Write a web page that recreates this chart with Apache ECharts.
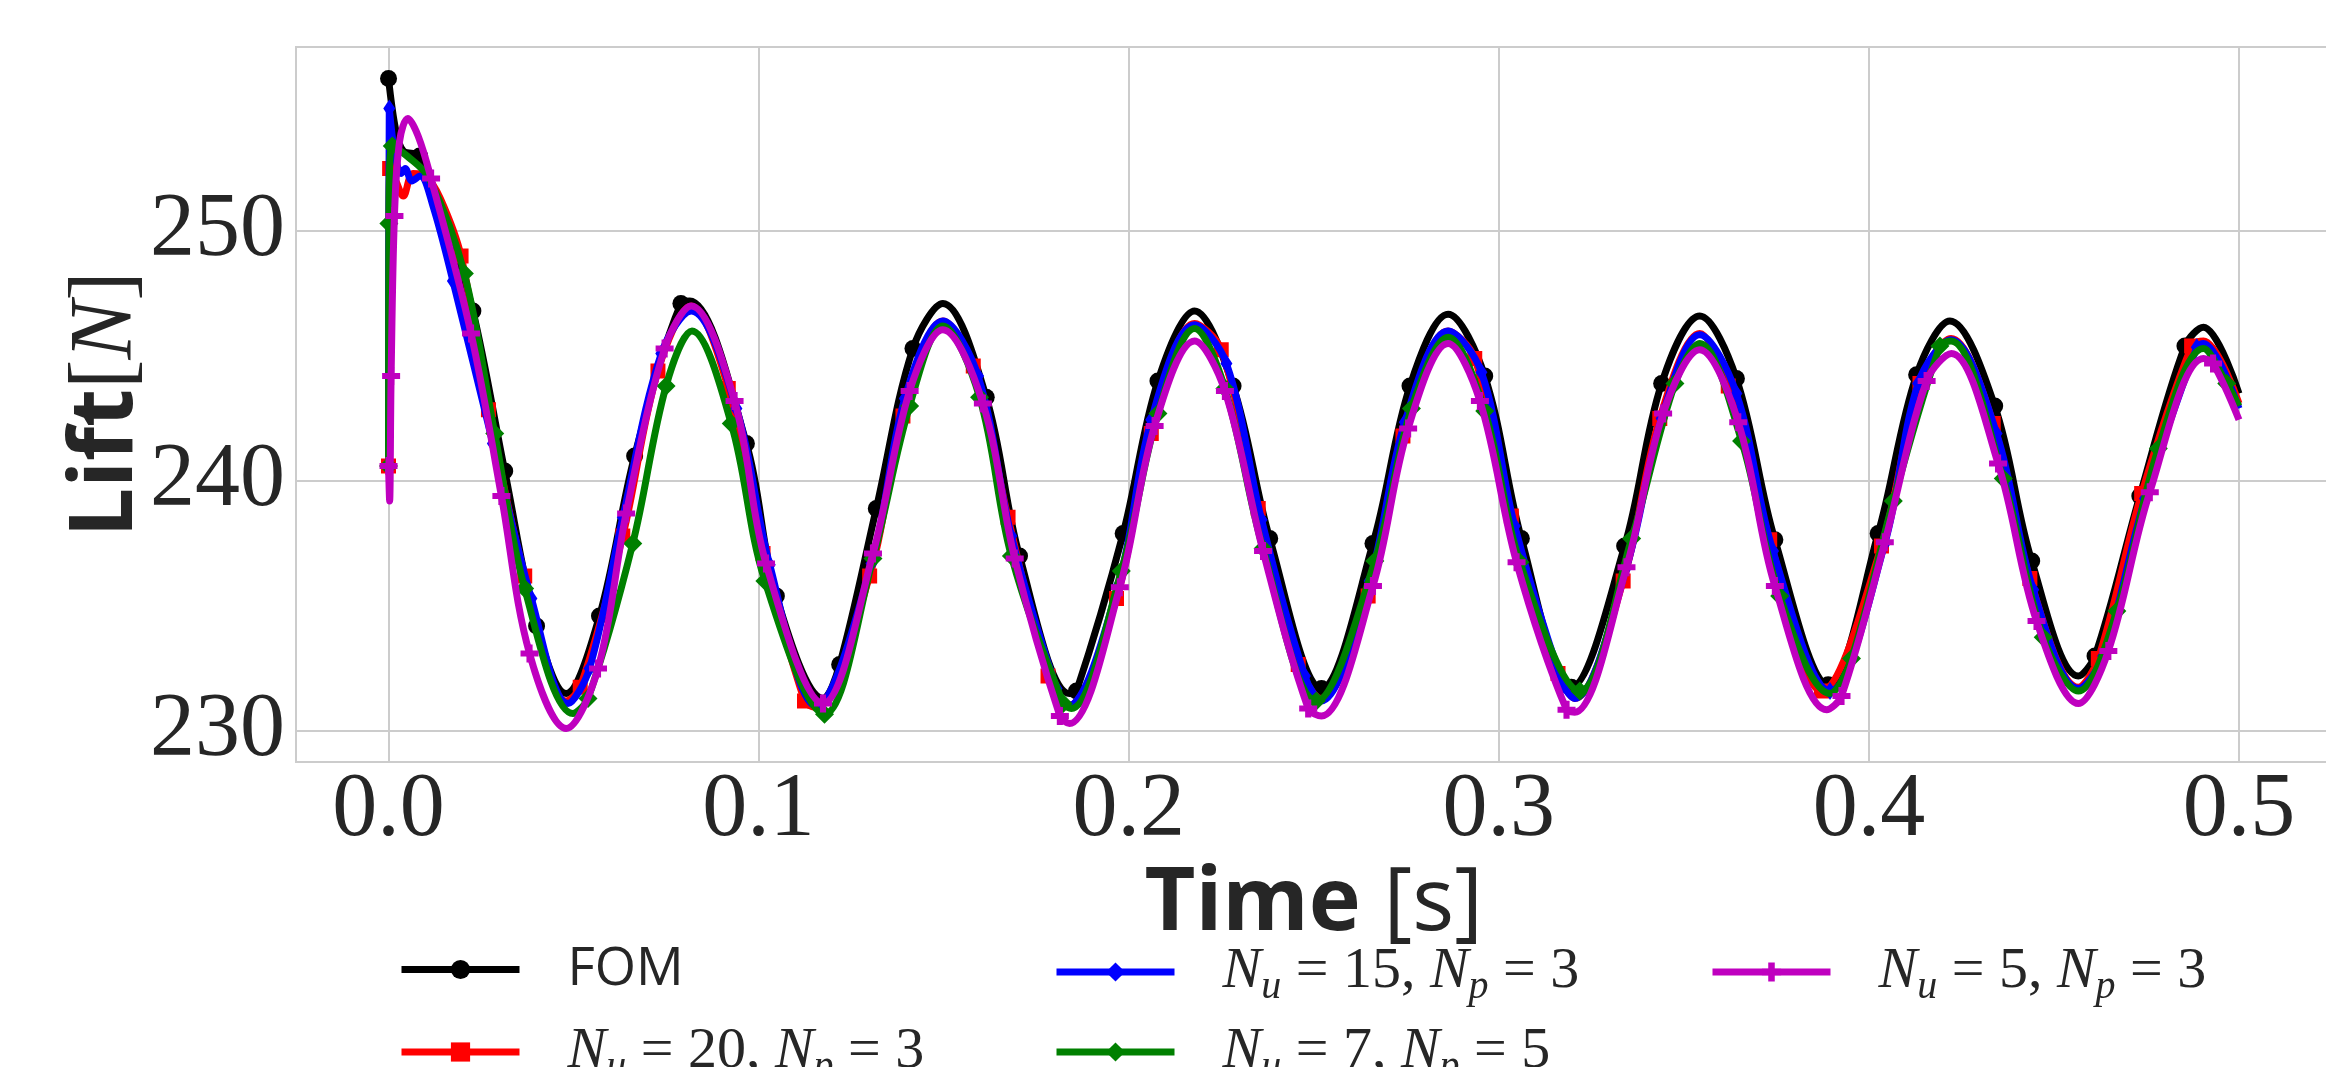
<!DOCTYPE html>
<html><head><meta charset="utf-8">
<script src="https://cdn.jsdelivr.net/npm/echarts@6/dist/echarts.min.js"></script>
<style>html,body{margin:0;padding:0;background:#fff}#c{width:2326px;height:1067px}</style>
</head><body><div id="c"></div>
<script>
// ---- Data ----
const xTickLabels = ['0.0','0.1','0.2','0.3','0.4','0.5'];
const yTickLabels = ['230','240','250'];

// FOM
const fomLine = [[0.002,254.0],[0.004,253.2],[0.012,251.6],[0.016,250.0],[0.048,231.5],[0.0814,247.2],[0.1175,231.3],[0.1498,247.1],[0.184,231.5],[0.2178,246.8],[0.2863,246.67],[0.3543,246.6],[0.4219,246.4],[0.4566,232.2],[0.4904,246.15],[0.5,243.5]];
const fomMarks = [[0,256.1],[0.0084,253.0],[0.0228,246.8],[0.0314,240.4],[0.040,234.2],[0.057,234.6],[0.0665,241.0],[0.079,247.1],[0.0967,241.5],[0.1048,235.4],[0.1219,232.66],[0.1318,238.9],[0.1417,245.3],[0.1615,243.35],[0.1705,237.0],[0.1859,231.6],[0.1985,237.9],[0.2079,244.0],[0.2282,243.8],[0.2381,237.7],[0.2521,231.7],[0.266,237.5],[0.276,243.8],[0.2962,244.2],[0.3061,237.7],[0.3196,231.75],[0.334,237.4],[0.344,243.9],[0.3642,244.1],[0.3746,237.65],[0.389,231.85],[0.4025,237.9],[0.4129,244.25],[0.434,243.0],[0.444,236.8],[0.4611,233.0],[0.4732,239.4],[0.4854,245.4]];

// N_u = 20, N_p = 3
const n20Line = [[0.002,252.0],[0.004,251.4],[0.0066,252.3],[0.010,252.2],[0.014,251.3],[0.048,231.2],[0.0818,247.0],[0.115,230.95],[0.1498,246.4],[0.1835,231.0],[0.2178,246.3],[0.252,231.3],[0.2863,246.0],[0.3205,231.3],[0.3543,245.9],[0.4222,245.7],[0.4566,231.75],[0.4904,245.6],[0.5,243.1]];
const n20Marks = [[0,240.6],[0.0003,252.5],[0.0196,249.0],[0.027,242.85],[0.0368,236.2],[0.0518,231.75],[0.0633,237.8],[0.0728,244.4],[0.0918,243.7],[0.1012,237.1],[0.1124,231.2],[0.130,236.2],[0.139,242.6],[0.158,244.6],[0.1674,238.55],[0.1782,232.2],[0.1967,235.3],[0.2061,241.9],[0.225,245.25],[0.235,238.9],[0.2458,232.66],[0.2647,235.4],[0.2741,241.8],[0.2935,244.9],[0.3034,238.6],[0.316,232.3],[0.3336,236.0],[0.3435,242.5],[0.362,243.8],[0.3732,237.65],[0.3872,231.6],[0.4034,237.4],[0.4138,243.9],[0.4336,242.3],[0.4435,236.1],[0.462,232.9],[0.4737,239.5],[0.4872,245.4]];

// N_u = 15, N_p = 3
const n15Line = [[0,240.6],[0.0015,253.3],[0.0034,252.3],[0.0045,252.5],[0.0063,252.0],[0.0085,252.2],[0.012,251.0],[0.0485,231.1],[0.0818,246.8],[0.1155,231.0],[0.1498,246.4],[0.1835,231.0],[0.2178,246.25],[0.252,231.2],[0.2863,246.0],[0.3205,231.3],[0.3543,245.85],[0.4222,245.65],[0.4566,231.7],[0.4904,245.5],[0.5,242.9]];
const n15Marks = [[0.0002,254.9],[0.0174,248.0],[0.0282,241.5],[0.0386,235.3],[0.0543,232.5],[0.0633,238.55],[0.0737,245.1],[0.094,242.9],[0.103,236.65],[0.1305,236.7],[0.1395,243.3],[0.1593,244.2],[0.1683,237.8],[0.1805,231.7],[0.1971,235.8],[0.2061,242.45],[0.2264,244.7],[0.2359,238.45],[0.2476,232.2],[0.2651,236.0],[0.2746,242.35],[0.2953,244.35],[0.3043,238.2],[0.3174,231.85],[0.3345,236.55],[0.344,242.5],[0.3642,243.5],[0.3741,237.2],[0.3895,231.6],[0.4043,237.5],[0.4133,243.9],[0.4345,241.9],[0.4444,235.65],[0.4633,233.0],[0.4746,239.3],[0.4886,245.35]];

// N_u = 7, N_p = 5
const n7Line = [[0.005,253.0],[0.011,252.1],[0.0498,230.7],[0.082,246.0],[0.1498,246.2],[0.1845,230.9],[0.2178,246.1],[0.2863,245.75],[0.3543,245.5],[0.3895,231.5],[0.4222,245.6],[0.4566,231.6],[0.4904,245.3],[0.5,243.0]];
const n7Marks = [[0,240.6],[0.0001,250.3],[0.001,253.4],[0.0205,248.3],[0.0287,241.9],[0.0368,235.7],[0.0539,231.3],[0.066,237.5],[0.075,243.8],[0.0926,242.3],[0.1017,236.0],[0.1178,230.67],[0.1309,236.9],[0.1408,243.0],[0.1597,243.35],[0.1683,237.0],[0.1823,231.1],[0.198,236.4],[0.2079,242.7],[0.226,243.7],[0.2363,237.3],[0.2507,231.2],[0.2665,236.8],[0.2764,242.9],[0.2962,242.8],[0.3057,236.75],[0.3219,231.6],[0.3359,237.7],[0.3476,243.9],[0.3656,241.6],[0.3759,235.4],[0.3953,232.9],[0.4066,239.2],[0.4192,245.4],[0.4363,240.1],[0.4471,233.75],[0.467,234.8],[0.4782,241.3],[0.4967,243.9]];

// N_u = 5, N_p = 3
const n5Line = [[0.0003,239.2],[0.003,253.6],[0.0052,254.5],[0.008,253.8],[0.048,230.1],[0.0818,247.0],[0.1498,246.05],[0.184,230.3],[0.2178,245.6],[0.2521,230.6],[0.2863,245.5],[0.3205,230.75],[0.3543,245.25],[0.3886,230.85],[0.4223,245.1],[0.4566,231.1],[0.4904,244.9],[0.5,242.45]];
const n5Marks = [[0,240.6],[0.0007,244.2],[0.0016,250.6],[0.0115,252.1],[0.0223,245.9],[0.0305,239.4],[0.0381,233.1],[0.0566,232.5],[0.0642,238.7],[0.0746,245.3],[0.0935,243.2],[0.102,236.7],[0.1174,231.1],[0.1309,237.1],[0.1408,243.6],[0.1606,243.1],[0.1692,236.9],[0.1814,230.6],[0.1976,235.75],[0.207,242.2],[0.226,243.6],[0.2363,237.2],[0.2485,230.9],[0.266,235.8],[0.2755,242.1],[0.2949,243.2],[0.3048,236.75],[0.3183,230.85],[0.3345,236.55],[0.3444,242.7],[0.3647,242.35],[0.3746,235.8],[0.3926,231.4],[0.4043,237.55],[0.4156,244.0],[0.4349,240.7],[0.4453,234.4],[0.4647,233.2],[0.4759,239.55],[0.493,244.7]];

// ---- Chart ----
const TXT = '#262626';
const SERIF = 'Liberation Serif';
const SANS = 'Open Sans';

function build(line, marks) {
  const all = line.map(p => ({ value: p, symbol: 'none' }))
    .concat(marks.map(p => ({ value: p })));
  all.sort((a, b) => a.value[0] - b.value[0]);
  return all;
}

const PLUS = 'path://M-1,-0.34L-0.34,-0.34L-0.34,-1L0.34,-1L0.34,-0.34L1,-0.34L1,0.34L0.34,0.34L0.34,1L-0.34,1L-0.34,0.34L-1,0.34Z';
const THIN = 'path://M0,-1L0.6,0L0,1L-0.6,0Z';

const defs = [
  { key: 'fom', line: fomLine, marks: fomMarks, color: '#000000', symbol: 'circle', size: 17 },
  { key: 'n20', line: n20Line, marks: n20Marks, color: '#ff0000', symbol: 'rect', size: 15 },
  { key: 'n15', line: n15Line, marks: n15Marks, color: '#0000ff', symbol: THIN, size: [12, 18] },
  { key: 'n7', line: n7Line, marks: n7Marks, color: '#008000', symbol: 'diamond', size: 19 },
  { key: 'n5', line: n5Line, marks: n5Marks, color: '#bf00bf', symbol: PLUS, size: 18 }
];

const legendText = {
  fom: '{f|FOM}',
  n20: '{n|N}{s|u}{t| = 20, }{n|N}{s|p}{t| = 3}',
  n15: '{n|N}{s|u}{t| = 15, }{n|N}{s|p}{t| = 3}',
  n7: '{n|N}{s|u}{t| = 7, }{n|N}{s|p}{t| = 5}',
  n5: '{n|N}{s|u}{t| = 5, }{n|N}{s|p}{t| = 3}'
};

const legendRich = {
  f: { fontFamily: SANS, fontSize: 53, color: TXT, lineHeight: 70 },
  n: { fontFamily: SERIF, fontStyle: 'italic', fontSize: 58, color: TXT, lineHeight: 70 },
  t: { fontFamily: SERIF, fontSize: 58, color: TXT, lineHeight: 70 },
  s: { fontFamily: SERIF, fontStyle: 'italic', fontSize: 40, color: TXT, lineHeight: 42, verticalAlign: 'bottom' }
};

function legendItem(name, left, top) {
  return {
    data: [name], orient: 'horizontal', left: left, top: top, padding: 0,
    itemWidth: 118, itemHeight: 24, selectedMode: false,
    lineStyle: { width: 7 },
    formatter: n => legendText[n],
    textStyle: { color: TXT, padding: [0, 0, 0, 43], rich: legendRich }
  };
}

const chart = echarts.init(document.getElementById('c'), null, { renderer: 'canvas' });
chart.setOption({
  animation: false,
  backgroundColor: '#ffffff',
  grid: { left: 296, top: 47, width: 2035.5, height: 715, show: true, borderColor: '#cccccc', borderWidth: 2, backgroundColor: 'transparent', outerBoundsMode: 'none', containLabel: false },
  xAxis: {
    type: 'value', min: -0.025, max: 0.525, splitNumber: 5,
    axisLine: { show: false }, axisTick: { show: false },
    splitLine: { show: true, lineStyle: { color: '#cccccc', width: 2 } },
    axisLabel: {
      showMinLabel: false, showMaxLabel: false, margin: 4,
      formatter: v => { const s = v.toFixed(1); return xTickLabels.indexOf(s) >= 0 ? '{v|' + s + '}' : ''; },
      rich: { v: { fontFamily: SERIF, fontSize: 90, color: TXT } }
    },
    name: '{b|Time }{r|[s]}', nameLocation: 'middle', nameGap: 92,
    nameTextStyle: { rich: {
      b: { fontFamily: SANS, fontWeight: 'bold', fontSize: 88, color: TXT },
      r: { fontFamily: SANS, fontSize: 88, color: TXT }
    } }
  },
  yAxis: {
    type: 'value', min: 228.76, max: 257.36, splitNumber: 3,
    axisLine: { show: false }, axisTick: { show: false },
    splitLine: { show: true, lineStyle: { color: '#cccccc', width: 2 } },
    axisLabel: {
      showMinLabel: false, showMaxLabel: false, margin: 11,
      formatter: v => { const s = v.toFixed(0); return yTickLabels.indexOf(s) >= 0 ? '{v|' + s + '}' : ''; },
      rich: { v: { fontFamily: SERIF, fontSize: 90, color: TXT } }
    },
    name: '{b|Lift}{r|[}{i|N}{r|]}', nameLocation: 'middle', nameGap: 145, nameRotate: 90, nameMoveOverlap: false,
    nameTextStyle: { rich: {
      b: { fontFamily: SANS, fontWeight: 'bold', fontSize: 88, color: TXT },
      r: { fontFamily: SERIF, fontSize: 88, color: TXT },
      i: { fontFamily: SERIF, fontStyle: 'italic', fontSize: 88, color: TXT }
    } }
  },
  legend: [
    legendItem('fom', 398, 943),
    legendItem('n20', 398, 1023),
    legendItem('n15', 1053, 943),
    legendItem('n7', 1053, 1023),
    legendItem('n5', 1709, 943)
  ],
  series: defs.map((d, i) => ({
    type: 'line', name: d.key, data: build(d.line, d.marks),
    symbol: d.symbol, symbolSize: d.size, showSymbol: true, showAllSymbol: true,
    smooth: 0.35, z: 2 + i,
    lineStyle: { color: d.color, width: 7 },
    itemStyle: { color: d.color, borderWidth: 0 },
    emphasis: { disabled: true }
  }))
});
</script>
</body></html>
